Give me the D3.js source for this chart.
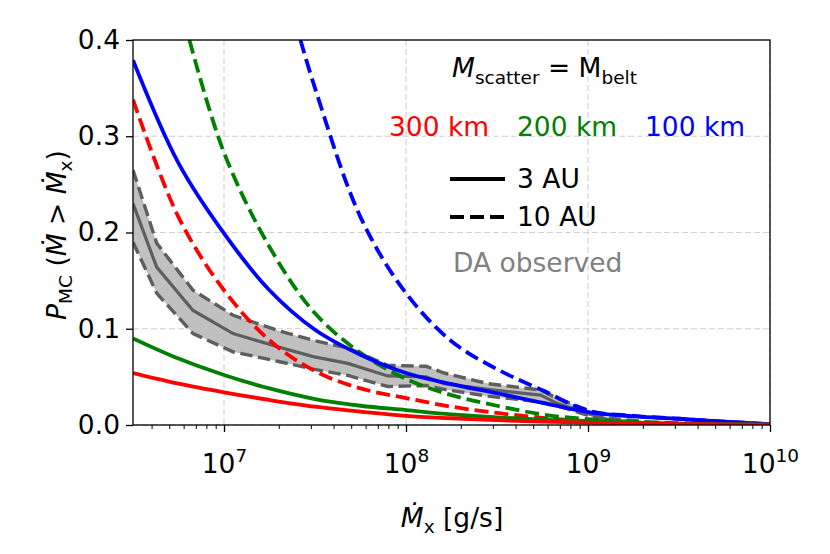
<!DOCTYPE html>
<html>
<head>
<meta charset="utf-8">
<script src="https://cdn.jsdelivr.net/npm/d3@7"></script>
<style>
  body { margin: 0; background: #fff; }
  svg text { font-family: "DejaVu Sans", sans-serif; }
</style>
</head>
<body>
<div id="vis"></div>
<script>
var WIDTH = 830
var HEIGHT = 554

// log10 of Mdot where the model curves were read
var logMdot = [6.5, 6.75, 7, 7.25, 7.5, 7.75, 8, 8.25, 8.5, 8.75, 9, 9.25, 9.5, 9.75, 10];

// 3 AU (solid)
var red3 = [0.054, 0.043, 0.034, 0.026, 0.019, 0.014, 0.0095, 0.007, 0.005, 0.0035, 0.0025, 0.0018, 0.001, 0.0006, 0.0003];
var green3 = [0.090, 0.069, 0.052, 0.038, 0.027, 0.020, 0.0155, 0.011, 0.008, 0.0055, 0.004, 0.0025, 0.0015, 0.001, 0.0004];
var blue3 = [0.379, 0.272, 0.199, 0.140, 0.099, 0.073, 0.054, 0.0425, 0.033, 0.023, 0.0135, 0.009, 0.0065, 0.0035, 0.0008];

// 10 AU (dashed)
var red10 = [0.338, 0.216, 0.140, 0.088, 0.056, 0.038, 0.028, 0.019, 0.0125, 0.0075, 0.004, 0.002, 0.001, 0.0006, 0.0003];
var greenLog10 = [6.81, 7, 7.25, 7.5, 7.75, 8, 8.25, 8.5, 8.75, 9, 9.25, 9.5, 9.75, 10];
var green10 = [0.400, 0.283, 0.185, 0.116, 0.075, 0.048, 0.031, 0.020, 0.011, 0.006, 0.0035, 0.002, 0.001, 0.0004];
var blueLog10 = [7.42, 7.5, 7.75, 8, 8.25, 8.5, 8.75, 9, 9.25, 9.5, 9.75, 10];
var blue10 = [0.400, 0.350, 0.216, 0.137, 0.087, 0.058, 0.036, 0.015, 0.0095, 0.0065, 0.0035, 0.0008];

// DA observed band
var obsLog = [6.5, 6.63, 6.83, 7.05, 7.3, 7.49, 7.68, 7.9, 8.11, 8.21, 8.45, 8.74, 8.83, 9.0, 9.12, 9.34];
var obsMid = [0.230, 0.164, 0.119, 0.095, 0.081, 0.071, 0.064, 0.051, 0.050, 0.043, 0.037, 0.031, 0.0225, 0.012, 0.005, 0.002];
var obsHigh = [0.265, 0.189, 0.140, 0.114, 0.098, 0.088, 0.080, 0.062, 0.061, 0.054, 0.043, 0.0364, 0.0277, 0.0156, 0.007, 0.003];
var obsLow = [0.190, 0.137, 0.095, 0.076, 0.066, 0.058, 0.0515, 0.040, 0.041, 0.037, 0.030, 0.024, 0.020, 0.010, 0.004, 0.001];

var yTicks = [0, 0.1, 0.2, 0.3, 0.4];
var xTicks = [1e7, 1e8, 1e9, 1e10];

var pLeft = 133, pRight = 770, pTop = 40, pBottom = 425;
var FS = 26.5, SUB = 18.5;
var LW = 3.8, DASH = '14,6';

var svg = d3.select('#vis').append('svg')
    .attr('width', WIDTH)
    .attr('height', HEIGHT)

var x = d3.scaleLog().domain([Math.pow(10, 6.5), 1e10]).range([pLeft, pRight]);
var y = d3.scaleLinear().domain([0, 0.4]).range([pBottom, pTop]);

svg.append('clipPath').attr('id', 'clip')
    .append('rect')
    .attr('x', pLeft).attr('y', pTop)
    .attr('width', pRight - pLeft).attr('height', pBottom - pTop);

// grid
var grid = svg.append('g');
grid.selectAll('line.gx')
    .data(xTicks)
    .enter()
    .append('line')
    .attr('x1', d => x(d)).attr('x2', d => x(d))
    .attr('y1', pTop).attr('y2', pBottom)
    .attr('stroke', '#d0d0d0').attr('stroke-width', 1.1)
    .attr('stroke-dasharray', '6,3');
grid.selectAll('line.gy')
    .data(yTicks)
    .enter()
    .append('line')
    .attr('x1', pLeft).attr('x2', pRight)
    .attr('y1', d => y(d)).attr('y2', d => y(d))
    .attr('stroke', '#d0d0d0').attr('stroke-width', 1.1)
    .attr('stroke-dasharray', '6,3');

var plot = svg.append('g').attr('clip-path', 'url(#clip)');

function pairs(logs, vals) {
    return logs.map((l, i) => [Math.pow(10, l), vals[i]]);
}

// observed band
var area = d3.area()
    .x(d => x(d[0]))
    .y0(d => y(d[1]))
    .y1(d => y(d[2]));
plot.append('path')
    .datum(obsLog.map((l, i) => [Math.pow(10, l), obsLow[i], obsHigh[i]]))
    .attr('d', area)
    .attr('fill', '#c0c0c0');

var straight = d3.line().x(d => x(d[0])).y(d => y(d[1]));
plot.append('path')
    .datum(pairs(obsLog, obsMid))
    .attr('d', straight)
    .attr('fill', 'none')
    .attr('stroke', '#5e5e5e')
    .attr('stroke-width', 3.2);
[obsHigh, obsLow].forEach(vals => {
    plot.append('path')
        .datum(pairs(obsLog, vals))
        .attr('d', straight)
        .attr('fill', 'none')
        .attr('stroke', '#5e5e5e')
        .attr('stroke-width', 3.4)
        .attr('stroke-dasharray', '12.5,5.5');
});

// model curves
var smooth = d3.line()
    .x(d => x(d[0]))
    .y(d => y(d[1]))
    .curve(d3.curveCatmullRom.alpha(0.5));

var curves = [
    { logs: logMdot, vals: red10, color: 'red', dash: true },
    { logs: greenLog10, vals: green10, color: 'green', dash: true },
    { logs: blueLog10, vals: blue10, color: 'blue', dash: true },
    { logs: logMdot, vals: blue3, color: 'blue', dash: false },
    { logs: logMdot, vals: green3, color: 'green', dash: false },
    { logs: logMdot, vals: red3, color: 'red', dash: false }
];

plot.selectAll('path.model')
    .data(curves)
    .enter()
    .append('path')
    .attr('class', 'model')
    .attr('d', d => smooth(pairs(d.logs, d.vals)))
    .attr('fill', 'none')
    .attr('stroke', d => d.color)
    .attr('stroke-width', LW)
    .attr('stroke-dasharray', d => d.dash ? DASH : null);

// frame
svg.append('rect')
    .attr('x', pLeft).attr('y', pTop)
    .attr('width', pRight - pLeft).attr('height', pBottom - pTop)
    .attr('fill', 'none')
    .attr('stroke', 'black')
    .attr('stroke-width', 1.3);

// axes
var yAxis = svg.append('g')
    .attr('transform', 'translate(' + pLeft + ',0)')
    .call(d3.axisLeft(y).tickValues(yTicks).tickSize(7).tickPadding(6).tickFormat(d3.format('.1f')));
yAxis.select('.domain').remove();
yAxis.selectAll('text').attr('font-size', FS).attr('fill', 'black').attr('font-family', 'DejaVu Sans');
yAxis.selectAll('line').attr('stroke-width', 1.3);

var minor = [];
for (var e = 6; e < 10; e++) {
    for (var m = 2; m <= 9; m++) {
        var v = m * Math.pow(10, e);
        if (v >= Math.pow(10, 6.5) && v <= 1e10) minor.push(v);
    }
}
var xMinor = svg.append('g')
    .attr('transform', 'translate(0,' + pBottom + ')')
    .call(d3.axisBottom(x).tickValues(minor).tickSize(4).tickFormat(''));
xMinor.select('.domain').remove();
xMinor.selectAll('line').attr('stroke-width', 1);

var xAxis = svg.append('g')
    .attr('transform', 'translate(0,' + pBottom + ')')
    .call(d3.axisBottom(x).tickValues(xTicks).tickSize(7).tickFormat(''));
xAxis.select('.domain').remove();
xAxis.selectAll('line').attr('stroke-width', 1.3);
xAxis.selectAll('.tick').append('text')
    .attr('y', 48)
    .attr('text-anchor', 'middle')
    .attr('font-size', FS)
    .attr('font-family', 'DejaVu Sans')
    .attr('fill', 'black')
    .each(function (d) {
        var t = d3.select(this);
        t.append('tspan').text('10');
        t.append('tspan').attr('font-size', SUB).attr('dy', -11).text(Math.round(Math.log10(d)));
    });

// axis titles
var xt = svg.append('text')
    .attr('x', 452).attr('y', 527)
    .attr('text-anchor', 'middle')
    .attr('font-size', FS);
xt.append('tspan').attr('font-style', 'italic').text('Ṁ');
xt.append('tspan').attr('font-size', SUB).attr('dy', 6).text('x');
xt.append('tspan').attr('dy', -6).text(' [g/s]');

var yt = svg.append('text')
    .attr('transform', 'translate(66,235) rotate(-90)')
    .attr('text-anchor', 'middle')
    .attr('font-size', FS);
yt.append('tspan').attr('font-style', 'italic').text('P');
yt.append('tspan').attr('font-size', SUB).attr('dy', 6).text('MC');
yt.append('tspan').attr('dy', -6).text(' (');
yt.append('tspan').attr('font-style', 'italic').text('Ṁ');
yt.append('tspan').text(' > ');
yt.append('tspan').attr('font-style', 'italic').text('Ṁ');
yt.append('tspan').attr('font-size', SUB).attr('dy', 6).text('x');
yt.append('tspan').attr('dy', -6).text(')');

// annotations / legend
var title = svg.append('text')
    .attr('x', 452).attr('y', 77)
    .attr('font-size', FS);
title.append('tspan').attr('font-style', 'italic').text('M');
title.append('tspan').attr('font-size', SUB).attr('dy', 7).text('scatter');
title.append('tspan').attr('dy', -7).text(' = M');
title.append('tspan').attr('font-size', SUB).attr('dy', 7).text('belt');

var sizes = [
    { label: '300 km', color: 'red', x: 389 },
    { label: '200 km', color: 'green', x: 517 },
    { label: '100 km', color: 'blue', x: 645 }
];
svg.selectAll('text.size')
    .data(sizes)
    .enter()
    .append('text')
    .attr('class', 'size')
    .attr('x', d => d.x).attr('y', 136)
    .attr('font-size', FS)
    .attr('fill', d => d.color)
    .text(d => d.label);

var styles = [
    { label: '3 AU', dash: null, y: 179 },
    { label: '10 AU', dash: DASH, y: 217 }
];
var lg = svg.selectAll('g.style')
    .data(styles)
    .enter()
    .append('g');
lg.append('line')
    .attr('x1', 450).attr('x2', 505)
    .attr('y1', d => d.y).attr('y2', d => d.y)
    .attr('stroke', 'black').attr('stroke-width', LW)
    .attr('stroke-dasharray', d => d.dash);
lg.append('text')
    .attr('x', 517).attr('y', d => d.y + 9)
    .attr('font-size', FS)
    .text(d => d.label);

svg.append('text')
    .attr('x', 453).attr('y', 272)
    .attr('font-size', FS)
    .attr('fill', 'gray')
    .text('DA observed');
</script>
</body>
</html>
